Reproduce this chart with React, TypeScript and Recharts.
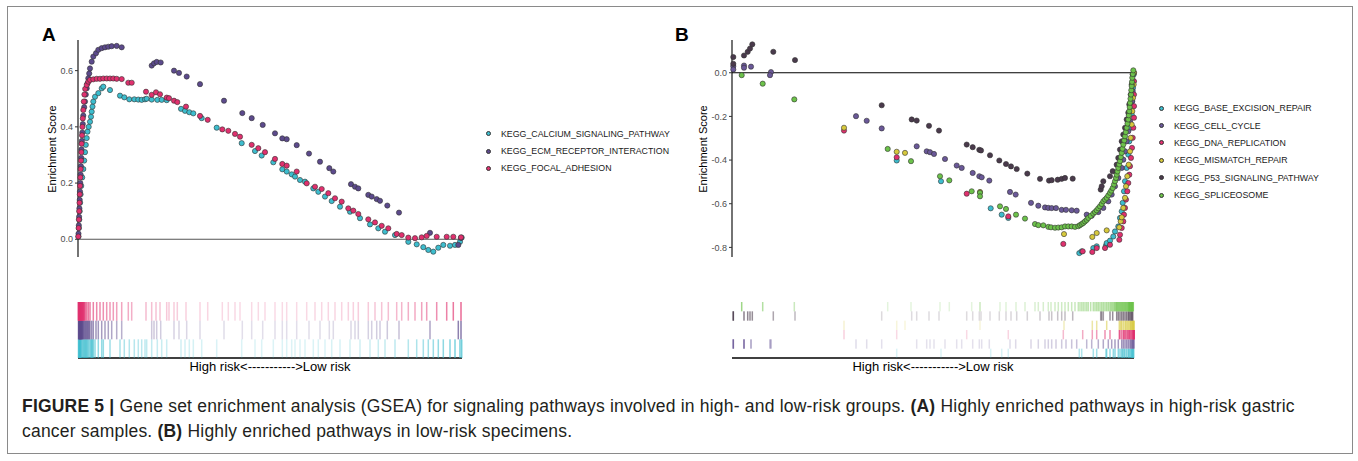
import React from 'react';
import { ScatterChart, Scatter, XAxis, YAxis, ReferenceLine } from 'recharts';

// x = position in the ranked gene list, y = running enrichment score
type Pt = [number, number];

// ---- panel A ----
const calcium: Pt[] = [
  [0.5, 0.01], [0.9, 0.04], [1.3, 0.07], [1.7, 0.1], [2.1, 0.13], [2.6, 0.16], [3.2, 0.19], [4.2, 0.22],
  [5.3, 0.25], [6.2, 0.28], [7, 0.31], [7.8, 0.336], [8.7, 0.36], [9.5, 0.383], [10.7, 0.4], [12, 0.418],
  [13, 0.436], [13.7, 0.454], [14.5, 0.472], [15.3, 0.49], [17, 0.507], [20.3, 0.52], [23.7, 0.537], [25.3, 0.543],
  [32, 0.531], [42, 0.511], [46.3, 0.505], [51.3, 0.498], [56.3, 0.498], [60.3, 0.497], [63.7, 0.496], [67, 0.498],
  [68.7, 0.5], [73.7, 0.497], [79.3, 0.496], [83.7, 0.496], [88.7, 0.495], [103, 0.464], [107, 0.457], [111.3, 0.452],
  [115.3, 0.448], [123.7, 0.431], [138.7, 0.397], [163.7, 0.342], [177, 0.314], [183.7, 0.298], [195.3, 0.274],
  [204.3, 0.249], [208.7, 0.241], [213.7, 0.231], [217, 0.223], [222, 0.211], [227, 0.205], [235.3, 0.181],
  [240.3, 0.169], [247, 0.152], [253.7, 0.136], [262, 0.116], [272, 0.098], [282, 0.075], [292, 0.053],
  [300.3, 0.039], [307, 0.027], [317, 0.015], [330.3, -0.009], [338.7, -0.018], [345.3, -0.028], [350.3, -0.038],
  [355.3, -0.044], [360.3, -0.03], [365.3, -0.02], [372, -0.023], [377, -0.02], [382, -0.009], [383.7, 0.006],
];
const ecm: Pt[] = [
  [0.5, 0.02], [0.8, 0.05], [1.1, 0.08], [1.4, 0.11], [1.7, 0.14], [2, 0.17], [2.3, 0.2], [2.6, 0.23],
  [2.9, 0.26], [3.2, 0.29], [3.5, 0.32], [3.9, 0.35], [4.3, 0.38], [4.8, 0.41], [5.3, 0.44], [6.2, 0.47],
  [7, 0.49], [7.8, 0.515], [8.7, 0.537], [9.5, 0.555], [10.3, 0.573], [11.2, 0.59], [12, 0.608], [13.7, 0.632],
  [15.3, 0.65], [18, 0.662], [20.3, 0.674], [23.7, 0.68], [27, 0.683], [30.3, 0.685], [33.7, 0.687], [38.7, 0.688],
  [43.7, 0.683], [73.7, 0.618], [76, 0.626], [78.7, 0.631], [82.7, 0.629], [96, 0.6], [101, 0.592], [108.7, 0.579],
  [122, 0.552], [146, 0.493], [164.3, 0.449], [173.7, 0.431], [184.7, 0.407], [197, 0.377], [204.3, 0.359],
  [208.7, 0.356], [218.7, 0.335], [231, 0.305], [242, 0.276], [251.3, 0.253], [255.3, 0.241], [273, 0.196],
  [277, 0.187], [280.3, 0.181], [290.3, 0.158], [293.7, 0.152], [298.7, 0.143], [302, 0.137], [309.3, 0.12],
  [321, 0.095], [352, 0.023], [380.3, -0.02], [383, 0.005],
];
const focal: Pt[] = [
  [0.3, 0.01], [0.6, 0.04], [0.9, 0.07], [1.2, 0.1], [1.5, 0.13], [1.8, 0.16], [2.1, 0.19], [2.4, 0.22],
  [2.7, 0.25], [3, 0.28], [3.3, 0.31], [3.6, 0.34], [4, 0.37], [4.4, 0.4], [4.8, 0.43], [5.3, 0.46],
  [5.8, 0.49], [6.4, 0.515], [7.2, 0.535], [8.7, 0.549], [10.3, 0.561], [12, 0.567], [15.3, 0.569], [18.7, 0.571],
  [22, 0.571], [25.3, 0.572], [28.7, 0.572], [32, 0.572], [35.3, 0.572], [38.7, 0.571], [43.7, 0.57], [50.3, 0.557],
  [53.7, 0.557], [68, 0.525], [73.7, 0.514], [78, 0.523], [82, 0.516], [88.7, 0.504], [91, 0.502], [96, 0.493],
  [99.3, 0.488], [108, 0.472], [122, 0.439], [129.7, 0.425], [144.3, 0.391], [150.3, 0.386], [157, 0.375],
  [162, 0.365], [173.7, 0.336], [180.3, 0.324], [187, 0.31], [197, 0.286], [204.3, 0.268], [208.7, 0.262],
  [218.7, 0.241], [228.7, 0.199], [237, 0.187], [243.7, 0.179], [250.3, 0.164], [257, 0.146], [263.7, 0.134],
  [270.3, 0.11], [275.3, 0.102], [280.3, 0.09], [290.3, 0.071], [297, 0.06], [303.7, 0.048], [310.3, 0.039],
  [318.7, 0.019], [323.7, 0.015], [330.3, 0.006], [337, 0.004], [343.7, 0.007], [348.7, 0.012], [358.7, 0.009],
  [368.7, 0.009], [375.3, 0.009], [383, 0.007],
];

// ---- panel B ----
const baseExcision: Pt[] = [
  [164.7, -0.402], [209, -0.497], [258.7, -0.621], [269.7, -0.65], [276.3, -0.665], [347.3, -0.826], [349.7, -0.818],
  [361.3, -0.803], [364.7, -0.795], [374, -0.791], [374.7, -0.78], [378, -0.769], [381.3, -0.75], [383, -0.727],
  [386.3, -0.704], [388, -0.665], [389.7, -0.635], [390.7, -0.596], [392, -0.543], [393, -0.497], [394.7, -0.436],
  [396.3, -0.375], [397.3, -0.314], [398.7, -0.252], [399.7, -0.191], [400.3, -0.13], [401, -0.069], [401.7, -0.008],
];
const cellCycle: Pt[] = [
  [1.3, 0.03], [1.3, 0.015], [12, 0.033], [12, 0.023], [19, 0.028], [39, 0.003], [38, -0.011], [124, -0.199],
  [134.7, -0.22], [149.7, -0.255], [184.7, -0.337], [194.7, -0.36], [198, -0.364], [202, -0.372], [213, -0.395],
  [224.7, -0.425], [229.7, -0.436], [240.7, -0.459], [247.3, -0.474], [249.7, -0.479], [257.3, -0.494], [278, -0.546],
  [283.7, -0.558], [299, -0.596], [306.3, -0.609], [313, -0.617], [316.3, -0.619], [319.7, -0.62], [324, -0.62],
  [329.7, -0.628], [334, -0.628], [339.7, -0.63], [344.7, -0.632], [354.7, -0.65], [359.7, -0.655], [366.3, -0.638],
  [371.3, -0.619], [376.3, -0.589], [379.7, -0.558], [383, -0.52], [386.3, -0.482], [389.7, -0.436], [391.3, -0.398],
  [393, -0.36], [394.7, -0.314], [396.3, -0.268], [398, -0.222], [399, -0.176], [400, -0.13], [400.7, -0.084],
  [401.3, -0.039], [402, 0],
];
const dnaReplication: Pt[] = [
  [112, -0.265], [164.7, -0.387], [234.7, -0.554], [276.3, -0.658], [331.3, -0.784], [350.7, -0.818], [360.3, -0.821],
  [364.7, -0.803], [373, -0.803], [378, -0.788], [387.3, -0.765], [388, -0.742], [389.7, -0.711], [391.3, -0.681],
  [392, -0.65], [393, -0.619], [394, -0.581], [395.3, -0.543], [396.3, -0.505], [397.3, -0.467], [398, -0.428],
  [399, -0.39], [400, -0.344], [400.7, -0.298], [401.3, -0.252], [402, -0.206], [402, -0.153], [402, -0.1], [402, -0.039],
];
const mismatch: Pt[] = [
  [112, -0.252], [164.7, -0.362], [173, -0.367], [248, -0.546], [332, -0.739], [360.3, -0.752], [364.7, -0.734],
  [374.7, -0.722], [387.3, -0.708], [388.7, -0.681], [389.7, -0.662], [391.3, -0.619], [393, -0.573], [394, -0.52],
  [395.3, -0.474], [396.7, -0.421], [398, -0.36], [398.7, -0.298], [399.7, -0.237], [400.3, -0.176], [401, -0.115],
  [401.7, -0.054], [402, 0],
];
const p53: Pt[] = [
  [1.3, 0.072], [1.3, 0.041], [12, 0.079], [15.7, 0.096], [18, 0.111], [20.3, 0.13], [41.3, 0.096], [63, 0.058],
  [149.7, -0.149], [179.7, -0.214], [184.7, -0.219], [197, -0.243], [207, -0.265], [234.7, -0.329], [240.7, -0.341],
  [247.3, -0.353], [249, -0.356], [258, -0.378], [267.3, -0.402], [274, -0.418], [279, -0.429], [284.7, -0.441],
  [295.3, -0.462], [308, -0.486], [317, -0.494], [319.7, -0.492], [325.7, -0.49], [329.7, -0.486], [333, -0.482],
  [340.7, -0.485], [368.7, -0.535], [369.7, -0.52], [371.3, -0.497], [378, -0.474], [380.7, -0.451], [384.7, -0.421],
  [386.3, -0.39], [388, -0.352], [389.7, -0.314], [391.3, -0.283], [393, -0.252], [394.7, -0.214], [396.3, -0.183],
  [397.3, -0.145], [398.7, -0.1], [399.7, -0.054], [400.7, -0.008],
];
const spliceosome: Pt[] = [
  [9.7, -0.011], [30.7, -0.05], [62.3, -0.122], [155.7, -0.349], [179, -0.405], [208, -0.474], [217.3, -0.493],
  [239.7, -0.543], [248, -0.55], [248, -0.566], [268, -0.612], [274, -0.624], [284, -0.65], [293, -0.668], [303, -0.693],
  [306.3, -0.698], [311.3, -0.699], [316.3, -0.706], [319, -0.708], [323, -0.71], [326.3, -0.709], [329.7, -0.708],
  [333, -0.704], [336.3, -0.704], [339.7, -0.704], [343, -0.706], [346.3, -0.703], [348, -0.698], [349.7, -0.693],
  [351.3, -0.688], [353, -0.681], [354.7, -0.674], [356.3, -0.665], [358.7, -0.656], [361.3, -0.645], [363, -0.638],
  [364.7, -0.63], [366.3, -0.621], [368, -0.612], [369.7, -0.601], [371.3, -0.589], [373, -0.581], [374.7, -0.573],
  [376.3, -0.562], [378, -0.55], [379.3, -0.54], [380.7, -0.528], [382, -0.512], [383, -0.497], [384, -0.482],
  [384.7, -0.467], [385.5, -0.452], [386.3, -0.436], [387.2, -0.42], [388, -0.405], [388.8, -0.386], [389.7, -0.367],
  [390.5, -0.348], [391.3, -0.329], [392.2, -0.31], [393, -0.291], [393.8, -0.272], [394.7, -0.252], [395.5, -0.233],
  [396.3, -0.214], [396.8, -0.195], [397.3, -0.176], [397.7, -0.157], [398, -0.138], [398.5, -0.119], [399, -0.1],
  [399.3, -0.08], [399.7, -0.061], [400, -0.042], [400.3, -0.023], [400.8, -0.006], [401.3, 0.011],
];

const ticksA = [0, 0.2, 0.4, 0.6];
const ticksB = [-0.8, -0.6, -0.4, -0.2, 0];
const riskLabel = 'High risk<----------->Low risk';

type Series = { name: string; color: string; pts: Pt[] };

const seriesA: Series[] = [
  { name: 'KEGG_CALCIUM_SIGNALING_PATHWAY', color: '#3dbdce', pts: calcium },
  { name: 'KEGG_ECM_RECEPTOR_INTERACTION', color: '#5c4a8c', pts: ecm },
  { name: 'KEGG_FOCAL_ADHESION', color: '#e0306e', pts: focal },
];
const seriesB: Series[] = [
  { name: 'KEGG_BASE_EXCISION_REPAIR', color: '#3dbdce', pts: baseExcision },
  { name: 'KEGG_CELL_CYCLE', color: '#6a5898', pts: cellCycle },
  { name: 'KEGG_DNA_REPLICATION', color: '#e0306e', pts: dnaReplication },
  { name: 'KEGG_MISMATCH_REPAIR', color: '#d6c83c', pts: mismatch },
  { name: 'KEGG_P53_SIGNALING_PATHWAY', color: '#4a3a4c', pts: p53 },
  { name: 'KEGG_SPLICEOSOME', color: '#6cc24a', pts: spliceosome },
];

const FONT = '"Liberation Sans", Arial, sans-serif';

const toObj = (pts: Pt[]) => pts.map(([x, y]) => ({ x, y }));

const Dot = (color: string) => (p: any) => (
  <circle cx={p.cx} cy={p.cy} r={2.6} fill={color} stroke="#333" strokeWidth={0.6} />
);

interface PanelProps {
  left: number;
  width: number;
  yAxisW: number;
  xMax: number;
  yDomain: [number, number];
  ticks: number[];
  series: Series[];
  zeroColor: string;
}

const EsPanel: React.FC<PanelProps> = ({ left, width, yAxisW, xMax, yDomain, ticks, series, zeroColor }) => (
  <div style={{ position: 'absolute', left, top: 0 }}>
    <ScatterChart width={width} height={270} margin={{ top: 40, right: 8, bottom: 13, left: 0 }}>
      <XAxis type="number" dataKey="x" domain={[0, xMax]} hide />
      <YAxis
        type="number"
        dataKey="y"
        width={yAxisW}
        domain={yDomain}
        allowDataOverflow
        ticks={ticks}
        tickFormatter={(v: number) => v.toFixed(1)}
        tickSize={3}
        tickLine={{ stroke: '#333' }}
        axisLine={{ stroke: '#000', strokeWidth: 1.1 }}
        tick={{ fill: '#4d4d4d', fontSize: 9, fontFamily: FONT }}
      />
      <ReferenceLine y={0} stroke={zeroColor} strokeWidth={1.1} />
      {series.map(s => (
        <Scatter key={s.name} data={toObj(s.pts)} shape={Dot(s.color)} isAnimationActive={false} />
      ))}
    </ScatterChart>
  </div>
);

interface BarcodeProps {
  left: number;
  width: number;
  plotLeft: number;
  xMax: number;
  series: Series[];
}

// hits drawn as thin ticks; first gene set in the bottom row
const Barcode: React.FC<BarcodeProps> = ({ left, width, plotLeft, xMax, series }) => {
  const n = series.length;
  const rowH = 56 / n;
  const tick = (color: string) => (p: any) => {
    const t = Math.abs((2 * p.payload.x) / xMax - 1);
    const op = 0.18 + 0.55 * Math.pow(t, 3);
    return <rect x={p.cx - 0.75} y={p.cy - rowH / 2} width={1.5} height={rowH} fill={color} fillOpacity={op} />;
  };
  return (
    <div style={{ position: 'absolute', left, top: 290 }}>
      <ScatterChart width={width} height={90} margin={{ top: 12, right: 8, bottom: 0, left: plotLeft }}>
        <XAxis
          type="number"
          dataKey="x"
          domain={[0, xMax]}
          height={22}
          tick={false}
          tickLine={false}
          axisLine={{ stroke: '#000', strokeWidth: 1.3 }}
          label={{ value: riskLabel, position: 'insideBottom', offset: 9, fill: '#000', fontSize: 13, fontFamily: FONT }}
        />
        <YAxis type="number" dataKey="y" domain={[0, n]} hide />
        {series.map((s, i) => (
          <Scatter
            key={s.name}
            data={s.pts.map(([x]) => ({ x, y: i + 0.5 }))}
            shape={tick(s.color)}
            isAnimationActive={false}
          />
        ))}
      </ScatterChart>
    </div>
  );
};

const Legend: React.FC<{ left: number; top: number; series: Series[] }> = ({ left, top, series }) => (
  <div style={{ position: 'absolute', left, top, fontFamily: FONT, fontSize: 8.8, color: '#1a1a1a' }}>
    {series.map(s => (
      <div key={s.name} style={{ display: 'flex', alignItems: 'center', height: 17.4 }}>
        <span
          style={{
            width: 5, height: 5, borderRadius: '50%', background: s.color, border: '0.6px solid #333',
            marginRight: 10, boxSizing: 'border-box', display: 'inline-block',
          }}
        />
        <span>{s.name}</span>
      </div>
    ))}
  </div>
);

const AxisTitle: React.FC<{ cx: number; cy: number }> = ({ cx, cy }) => (
  <div
    style={{
      position: 'absolute', left: cx, top: cy, transform: 'translate(-50%, -50%) rotate(-90deg)',
      fontFamily: FONT, fontSize: 11, whiteSpace: 'nowrap', color: '#000',
    }}
  >
    Enrichment Score
  </div>
);

const PanelLetter: React.FC<{ x: number; t: string }> = ({ x, t }) => (
  <div style={{ position: 'absolute', left: x, top: 25, fontFamily: FONT, fontWeight: 'bold', fontSize: 19, lineHeight: '19px' }}>
    {t}
  </div>
);

export default function App() {
  return (
    <div style={{ position: 'absolute', left: 0, top: 0, width: 1358, height: 461, background: '#fff', overflow: 'hidden' }}>
      <div
        style={{
          position: 'absolute', left: 7, top: 6, width: 1346, height: 448,
          border: '1.5px solid #8a8a8a', boxSizing: 'border-box',
        }}
      />
      <PanelLetter x={42} t="A" />
      <PanelLetter x={675} t="B" />
      <AxisTitle cx={52} cy={149} />
      <AxisTitle cx={703} cy={149} />

      <EsPanel left={0} width={470} yAxisW={78} xMax={384} yDomain={[-0.063, 0.709]} ticks={ticksA} series={seriesA} zeroColor="#555" />
      <EsPanel left={650} width={492} yAxisW={82} xMax={402} yDomain={[-0.844, 0.15]} ticks={ticksB} series={seriesB} zeroColor="#000" />

      <Legend left={486} top={125} series={seriesA} />
      <Legend left={1159} top={99.5} series={seriesB} />

      <Barcode left={0} width={470} plotLeft={78} xMax={384} series={seriesA} />
      <Barcode left={650} width={492} plotLeft={82} xMax={402} series={seriesB} />

      <div
        style={{
          position: 'absolute', left: 22, top: 394, width: 1320, fontFamily: FONT, fontSize: 17.5,
          letterSpacing: 0.2, lineHeight: '25px', color: '#231f20', whiteSpace: 'nowrap',
        }}
      >
        <b>FIGURE 5 |</b> Gene set enrichment analysis (GSEA) for signaling pathways involved in high- and low-risk groups.{' '}
        <b>(A)</b> Highly enriched pathways in high-risk gastric
        <br />
        cancer samples. <b>(B)</b> Highly enriched pathways in low-risk specimens.
      </div>
    </div>
  );
}
